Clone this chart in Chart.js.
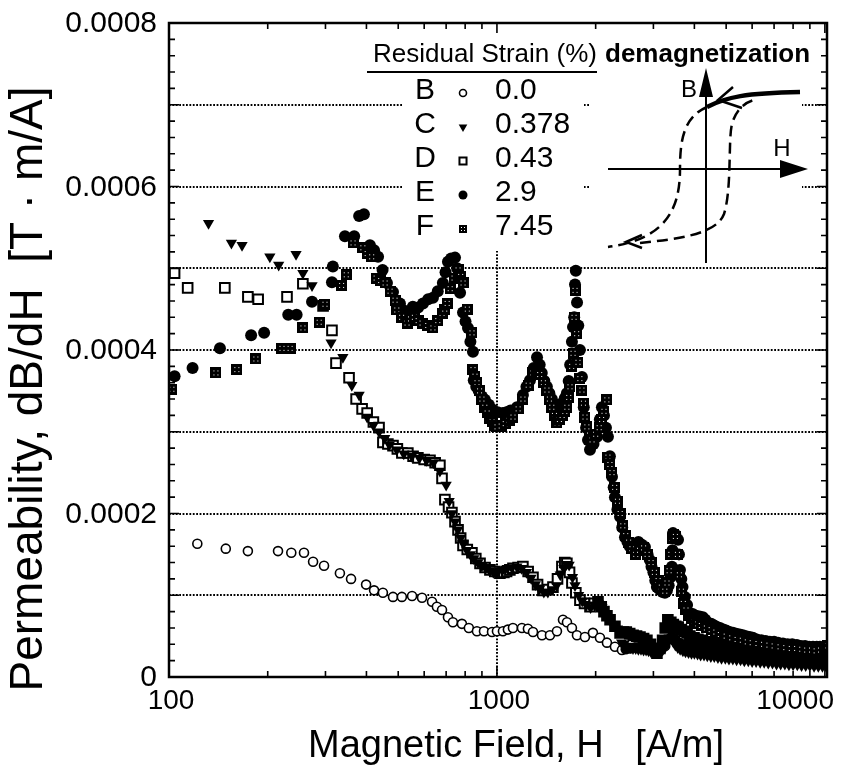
<!DOCTYPE html>
<html>
<head>
<meta charset="utf-8">
<script src="https://cdn.jsdelivr.net/npm/chart.js@4.4.1/dist/chart.umd.min.js"></script>
<style>
  html, body { margin: 0; padding: 0; background: #fff; }
  #wrap { width: 847px; height: 773px; }
</style>
</head>
<body>
<div id="wrap"><canvas id="chart" width="847" height="773"></canvas></div>
<script>
// [H (A/m), dB/dH (T·m/A)], one list per sample
const sampleB = [[122, 0.000163], [149, 0.000157], [174, 0.000154], [215, 0.000154], [236, 0.000152], [258, 0.000152],
  [275, 0.000141], [297, 0.000136], [332, 0.000127], [359, 0.000120], [399, 0.000113], [422, 0.000106], [449, 0.000103],
  [482, 0.000098], [513, 0.000098], [551, 0.000099], [591, 0.000097], [634, 0.000092], [656, 0.000086], [680, 0.000082],
  [709, 0.000073], [734, 0.000067], [782, 0.000065], [821, 0.000060], [869, 0.000056], [913, 0.000056], [966, 0.000055],
  [1000, 0.000056], [1043, 0.000056], [1080, 0.000058], [1119, 0.000060], [1192, 0.000060], [1243, 0.000059],
  [1288, 0.000055], [1372, 0.000051], [1451, 0.000051], [1524, 0.000056], [1590, 0.000070], [1635, 0.000067],
  [1693, 0.000060], [1754, 0.000051], [1855, 0.000049], [1962, 0.000054], [2061, 0.000048], [2165, 0.000042],
  [2290, 0.000037], [2405, 0.000033], [2470, 0.000034], [2540, 0.000035], [2620, 0.000036], [2700, 0.000036],
  [2780, 0.000035], [2860, 0.000035], [2940, 0.000034], [3020, 0.000033], [3100, 0.000033], [3180, 0.000034],
  [3260, 0.000038], [3340, 0.000046], [3420, 0.000050], [3500, 0.000046], [3590, 0.000042], [3690, 0.000040],
  [3800, 0.000038], [3920, 0.000037], [4050, 0.000036], [4180, 0.000035], [4320, 0.000034], [4470, 0.000033],
  [4620, 0.000032], [4780, 0.000031], [4950, 0.000030], [5130, 0.000029], [5320, 0.000028], [5520, 0.000027],
  [5730, 0.000026], [5950, 0.000025], [6180, 0.000025], [6420, 0.000024], [6670, 0.000023], [6930, 0.000023],
  [7200, 0.000022], [7480, 0.000021], [7770, 0.000021], [8070, 0.000020], [8380, 0.000020], [8700, 0.000019],
  [9030, 0.000019], [9370, 0.000018], [9720, 0.000018], [10080, 0.000018]];

const sampleC = [[132, 0.000555], [155, 0.000531], [167, 0.000528], [203, 0.000514], [216, 0.000504], [244, 0.000517],
  [256, 0.000494], [273, 0.000479], [312, 0.000409], [339, 0.000391], [361, 0.000357], [380, 0.000345], [402, 0.000318],
  [420, 0.000308], [437, 0.000300], [455, 0.000292], [470, 0.000284], [495, 0.000278], [520, 0.000273], [550, 0.000270],
  [580, 0.000268], [610, 0.000265], [640, 0.000262], [670, 0.000252], [700, 0.000235], [715, 0.000215], [729, 0.000200],
  [745, 0.000190], [760, 0.000180], [775, 0.000170], [790, 0.000163], [810, 0.000155], [830, 0.000150], [850, 0.000145],
  [875, 0.000140], [900, 0.000136], [925, 0.000133], [950, 0.000130], [975, 0.000128], [1000, 0.000127], [1040, 0.000131],
  [1075, 0.000133], [1110, 0.000134], [1150, 0.000135], [1190, 0.000133], [1230, 0.000128], [1270, 0.000121],
  [1310, 0.000113], [1350, 0.000108], [1390, 0.000104], [1430, 0.000104], [1475, 0.000107], [1520, 0.000112],
  [1560, 0.000125], [1600, 0.000133], [1630, 0.000138], [1660, 0.000137], [1700, 0.000122], [1730, 0.000112],
  [1775, 0.000100], [1820, 0.000093], [1875, 0.000088], [1930, 0.000085], [1985, 0.000088], [2040, 0.000090],
  [2090, 0.000085], [2150, 0.000078], [2210, 0.000070], [2270, 0.000064], [2330, 0.000059], [2400, 0.000042],
  [2440, 0.000040], [2480, 0.000038], [2520, 0.000037], [2560, 0.000036], [2600, 0.000035], [2650, 0.000035],
  [2700, 0.000034], [2750, 0.000034], [2800, 0.000033], [2850, 0.000033], [2900, 0.000032], [2950, 0.000031],
  [3000, 0.000031], [3050, 0.000030], [3100, 0.000030], [3150, 0.000031], [3200, 0.000033], [3250, 0.000037],
  [3300, 0.000043], [3350, 0.000048], [3400, 0.000047], [3450, 0.000043], [3500, 0.000039], [3560, 0.000036],
  [3620, 0.000034], [3690, 0.000032], [3760, 0.000031], [3840, 0.000030], [3920, 0.000029], [4000, 0.000029],
  [4090, 0.000028], [4180, 0.000027], [4280, 0.000027], [4380, 0.000026], [4490, 0.000025], [4600, 0.000025],
  [4720, 0.000024], [4840, 0.000023], [4970, 0.000023], [5100, 0.000022], [5240, 0.000022], [5380, 0.000021],
  [5530, 0.000021], [5680, 0.000020], [5840, 0.000020], [6000, 0.000019], [6170, 0.000019], [6350, 0.000018],
  [6530, 0.000018], [6720, 0.000017], [6920, 0.000017], [7120, 0.000016], [7330, 0.000016], [7550, 0.000016],
  [7770, 0.000015], [8000, 0.000015], [8240, 0.000015], [8490, 0.000014], [8740, 0.000014], [9000, 0.000014],
  [9270, 0.000013], [9550, 0.000013], [9830, 0.000013], [10100, 0.000013]];

const sampleD = [[104, 0.000494], [114, 0.000476], [148, 0.000476], [174, 0.000465], [187, 0.000462], [229, 0.000465],
  [256, 0.000481], [295, 0.000454], [314, 0.000424], [323, 0.000384], [354, 0.000366], [372, 0.000340], [388, 0.000328],
  [402, 0.000323], [420, 0.000312], [437, 0.000305], [449, 0.000287], [465, 0.000285], [482, 0.000283], [497, 0.000279],
  [513, 0.000274], [535, 0.000274], [555, 0.000270], [574, 0.000268], [600, 0.000266], [625, 0.000265], [648, 0.000262],
  [670, 0.000259], [680, 0.000243], [694, 0.000217], [712, 0.000208], [729, 0.000201], [745, 0.000190], [761, 0.000180],
  [775, 0.000170], [788, 0.000161], [812, 0.000156], [839, 0.000152], [862, 0.000145], [888, 0.000139], [920, 0.000134],
  [952, 0.000131], [985, 0.000129], [1021, 0.000127], [1050, 0.000128], [1070, 0.000129], [1095, 0.000131],
  [1119, 0.000133], [1160, 0.000134], [1200, 0.000135], [1245, 0.000129], [1288, 0.000122], [1330, 0.000113],
  [1381, 0.000106], [1430, 0.000107], [1482, 0.000110], [1530, 0.000120], [1578, 0.000135], [1610, 0.000140],
  [1634, 0.000139], [1665, 0.000128], [1693, 0.000115], [1740, 0.000103], [1791, 0.000094], [1850, 0.000090],
  [1922, 0.000086], [1980, 0.000090], [2033, 0.000092], [2080, 0.000086], [2120, 0.000080], [2165, 0.000075],
  [2213, 0.000070], [2290, 0.000062], [2374, 0.000054], [2430, 0.000055], [2480, 0.000055], [2540, 0.000053],
  [2601, 0.000051], [2665, 0.000050], [2730, 0.000049], [2800, 0.000047], [2866, 0.000045], [2940, 0.000040],
  [3000, 0.000034], [3075, 0.000029], [3140, 0.000035], [3200, 0.000045], [3260, 0.000060], [3320, 0.000070],
  [3390, 0.000067], [3450, 0.000064], [3510, 0.000062], [3570, 0.000061], [3650, 0.000058], [3720, 0.000056],
  [3800, 0.000054], [3875, 0.000050], [3990, 0.000048], [4100, 0.000046], [4230, 0.000045], [4365, 0.000043],
  [4500, 0.000042], [4650, 0.000040], [4780, 0.000039], [4900, 0.000038], [5050, 0.000037], [5200, 0.000036],
  [5350, 0.000035], [5500, 0.000034], [5650, 0.000033], [5800, 0.000032], [5950, 0.000031], [6100, 0.000031],
  [6270, 0.000030], [6450, 0.000029], [6620, 0.000029], [6800, 0.000028], [7000, 0.000028], [7200, 0.000027],
  [7400, 0.000027], [7600, 0.000026], [7800, 0.000026], [8000, 0.000025], [8250, 0.000025], [8500, 0.000024],
  [8750, 0.000024], [9000, 0.000023], [9250, 0.000023], [9500, 0.000023], [9750, 0.000022], [10000, 0.000022]];

const sampleE = [[104, 0.000368], [118, 0.000378], [143, 0.000402], [178, 0.000418], [195, 0.000421], [231, 0.000443],
  [245, 0.000443], [273, 0.000459], [314, 0.000483], [316, 0.000502], [344, 0.000539], [367, 0.000539], [380, 0.000564],
  [393, 0.000566], [410, 0.000528], [422, 0.000522], [434, 0.000514], [448, 0.000498], [462, 0.000482], [482, 0.000471],
  [506, 0.000457], [517, 0.000449], [535, 0.000447], [554, 0.000453], [575, 0.000452], [595, 0.000457], [617, 0.000462],
  [638, 0.000464], [660, 0.000472], [684, 0.000482], [697, 0.000495], [709, 0.000508], [725, 0.000512], [745, 0.000513],
  [756, 0.000500], [772, 0.000470], [788, 0.000446], [802, 0.000435], [816, 0.000427], [830, 0.000410], [845, 0.000398],
  [850, 0.000363], [865, 0.000355], [880, 0.000350], [900, 0.000343], [919, 0.000339], [945, 0.000333], [972, 0.000327],
  [1005, 0.000324], [1043, 0.000323], [1070, 0.000324], [1100, 0.000326], [1151, 0.000330], [1200, 0.000345],
  [1230, 0.000355], [1261, 0.000363], [1295, 0.000378], [1325, 0.000391], [1350, 0.000382], [1370, 0.000372],
  [1395, 0.000362], [1420, 0.000355], [1445, 0.000347], [1470, 0.000340], [1497, 0.000334], [1524, 0.000330],
  [1550, 0.000331], [1580, 0.000335], [1610, 0.000341], [1634, 0.000347], [1655, 0.000362], [1672, 0.000382],
  [1693, 0.000410], [1706, 0.000428], [1720, 0.000440], [1730, 0.000480], [1740, 0.000497], [1755, 0.000458],
  [1770, 0.000430], [1790, 0.000400], [1816, 0.000367], [1840, 0.000330], [1870, 0.000305], [1895, 0.000290],
  [1922, 0.000278], [1970, 0.000285], [2020, 0.000294], [2060, 0.000315], [2090, 0.000330], [2120, 0.000320],
  [2150, 0.000305], [2180, 0.000294], [2210, 0.000270], [2243, 0.000245], [2270, 0.000232], [2290, 0.000220],
  [2330, 0.000205], [2373, 0.000196], [2410, 0.000183], [2457, 0.000171], [2500, 0.000165], [2540, 0.000160],
  [2580, 0.000158], [2620, 0.000160], [2660, 0.000163], [2700, 0.000165], [2760, 0.000162], [2827, 0.000159],
  [2880, 0.000150], [2925, 0.000143], [2960, 0.000135], [3000, 0.000128], [3040, 0.000118], [3074, 0.000110],
  [3120, 0.000108], [3160, 0.000106], [3200, 0.000104], [3252, 0.000103], [3300, 0.000106], [3340, 0.000112],
  [3380, 0.000122], [3417, 0.000135], [3430, 0.000155], [3442, 0.000176], [3500, 0.000174], [3566, 0.000168],
  [3590, 0.000150], [3614, 0.000131], [3650, 0.000120], [3680, 0.000110], [3742, 0.000098], [3800, 0.000088],
  [3875, 0.000078], [3950, 0.000077], [4050, 0.000075], [4150, 0.000074], [4245, 0.000073], [4320, 0.000070],
  [4397, 0.000066], [4500, 0.000065], [4600, 0.000063], [4700, 0.000061], [4786, 0.000060], [4900, 0.000058],
  [5000, 0.000057], [5120, 0.000055], [5244, 0.000054], [5370, 0.000053], [5500, 0.000052], [5620, 0.000051],
  [5750, 0.000050], [5900, 0.000049], [6030, 0.000048], [6200, 0.000046], [6400, 0.000045], [6600, 0.000044],
  [6796, 0.000043], [7000, 0.000043], [7200, 0.000042], [7450, 0.000041], [7700, 0.000040], [7950, 0.000040],
  [8215, 0.000039], [8450, 0.000038], [8700, 0.000038], [8950, 0.000037], [9200, 0.000037], [9450, 0.000037],
  [9660, 0.000037], [9900, 0.000036], [10100, 0.000036]];

const sampleF = [[102, 0.000352], [139, 0.000372], [161, 0.000376], [184, 0.000389], [221, 0.000402], [234, 0.000402],
  [256, 0.000427], [287, 0.000434], [299, 0.000456], [336, 0.000479], [347, 0.000492], [364, 0.000531], [390, 0.000525],
  [402, 0.000518], [415, 0.000514], [428, 0.000488], [442, 0.000485], [456, 0.000482], [472, 0.000472], [489, 0.000461],
  [495, 0.000449], [512, 0.000440], [532, 0.000433], [545, 0.000438], [560, 0.000440], [575, 0.000436], [591, 0.000433],
  [615, 0.000430], [638, 0.000427], [660, 0.000436], [680, 0.000445], [693, 0.000450], [705, 0.000457], [720, 0.000475],
  [740, 0.000488], [761, 0.000498], [775, 0.000490], [788, 0.000482], [812, 0.000450], [839, 0.000421], [845, 0.000376],
  [857, 0.000368], [869, 0.000360], [885, 0.000350], [900, 0.000340], [918, 0.000330], [933, 0.000323], [950, 0.000316],
  [966, 0.000312], [983, 0.000308], [1000, 0.000306], [1030, 0.000307], [1060, 0.000310], [1090, 0.000314],
  [1119, 0.000318], [1160, 0.000328], [1200, 0.000340], [1245, 0.000357], [1288, 0.000372], [1320, 0.000373],
  [1350, 0.000370], [1385, 0.000360], [1420, 0.000351], [1445, 0.000340], [1470, 0.000330], [1497, 0.000320],
  [1524, 0.000311], [1550, 0.000315], [1580, 0.000320], [1610, 0.000325], [1634, 0.000330], [1655, 0.000342],
  [1670, 0.000355], [1690, 0.000380], [1706, 0.000396], [1718, 0.000440], [1730, 0.000473], [1750, 0.000420],
  [1766, 0.000385], [1790, 0.000365], [1816, 0.000351], [1835, 0.000335], [1855, 0.000318], [1880, 0.000306],
  [1915, 0.000296], [1950, 0.000290], [2000, 0.000297], [2050, 0.000305], [2085, 0.000315], [2120, 0.000325],
  [2163, 0.000339], [2180, 0.000269], [2210, 0.000260], [2243, 0.000250], [2285, 0.000232], [2330, 0.000215],
  [2375, 0.000200], [2420, 0.000185], [2470, 0.000173], [2520, 0.000165], [2580, 0.000157], [2650, 0.000150],
  [2720, 0.000155], [2800, 0.000158], [2870, 0.000150], [2950, 0.000140], [3020, 0.000128], [3100, 0.000118],
  [3170, 0.000110], [3250, 0.000105], [3300, 0.000115], [3350, 0.000130], [3390, 0.000150], [3420, 0.000170],
  [3460, 0.000174], [3500, 0.000172], [3550, 0.000150], [3600, 0.000125], [3650, 0.000105], [3700, 0.000090],
  [3770, 0.000082], [3850, 0.000075], [3920, 0.000071], [4000, 0.000068], [4100, 0.000065], [4200, 0.000063],
  [4350, 0.000060], [4500, 0.000058], [4650, 0.000055], [4800, 0.000052], [5000, 0.000050], [5200, 0.000048],
  [5400, 0.000046], [5600, 0.000045], [5800, 0.000043], [6000, 0.000042], [6250, 0.000041], [6500, 0.000040],
  [6750, 0.000039], [7000, 0.000038], [7300, 0.000037], [7600, 0.000036], [7900, 0.000035], [8200, 0.000035],
  [8500, 0.000034], [8800, 0.000033], [9100, 0.000033], [9400, 0.000032], [9700, 0.000033], [10000, 0.000035],
  [10200, 0.000038]];

// Key entries (sample letter, residual strain %)
const sampleLetters = ['B', 'C', 'D', 'E', 'F'];
const strainLabels = ['0.0', '0.378', '0.43', '2.9', '7.45'];

// Axis ticks
const xMin = 100, xMax = 10150;
const xTickValues = [100, 1000, 10000];
const xTickLabels = ['100', '1000', '10000'];
const yTickValues = [0, 0.0002, 0.0004, 0.0006, 0.0008];
const yTickLabels = ['0', '0.0002', '0.0004', '0.0006', '0.0008'];
const yGridValues = [0.0001, 0.0002, 0.0003, 0.0004, 0.0005, 0.0006, 0.0007];
const xGridValues = [1000];

const FONT = '"Liberation Sans", Arial, Helvetica, sans-serif';

function points(list) {
    return list.map(p => ({ x: p[0], y: p[1] }));
}

// open markers fill in where the traces pile up into a solid band
function openUntil(hLimit) {
    return c => (c.raw && c.raw.x > hLimit ? '#000' : '#fff');
}

// black square with four white pin-holes, used for sample F
function dottedSquare(size) {
    const c = document.createElement('canvas');
    c.width = size;
    c.height = size;
    const g = c.getContext('2d');
    g.fillStyle = '#000';
    g.fillRect(0, 0, size, size);
    g.fillStyle = '#fff';
    const a = Math.round(size * 0.3), b = Math.round(size * 0.6);
    [[a, a], [b, a], [a, b], [b, b]].forEach(p => g.fillRect(p[0], p[1], 1, 1));
    return c;
}

// inward tick positions
const xMinorTicks = [];
[100, 1000].forEach(d => { for (let k = 1; k <= 9; k++) xMinorTicks.push(d * k); });
xMinorTicks.push(10000);
const yMinorTicks = [];
for (let k = 0; k <= 40; k++) yMinorTicks.push(k * 0.00002);

const decor = {
    id: 'decor',
    beforeDatasetsDraw(chart) {
        const { ctx, chartArea: a, scales: { x, y } } = chart;
        ctx.save();
        ctx.strokeStyle = '#000';
        ctx.lineWidth = 2;
        ctx.setLineDash([1.8, 1.6]);
        yGridValues.forEach(v => {
            const py = Math.round(y.getPixelForValue(v));
            ctx.beginPath();
            ctx.moveTo(a.left, py);
            ctx.lineTo(a.right, py);
            ctx.stroke();
        });
        xGridValues.forEach(v => {
            const px = Math.round(x.getPixelForValue(v));
            ctx.beginPath();
            ctx.moveTo(px, a.top);
            ctx.lineTo(px, a.bottom);
            ctx.stroke();
        });
        ctx.setLineDash([]);
        // blank panels behind the key and the sketch
        ctx.fillStyle = '#fff';
        ctx.fillRect(a.left + 234, a.top + 1, 181, 227);
        ctx.fillRect(a.left + 421, a.top + 1, 212, 233);
        ctx.restore();
    },
    afterDatasetsDraw(chart) {
        const { ctx, chartArea: a, scales: { x, y } } = chart;
        ctx.save();

        // frame
        ctx.strokeStyle = '#000';
        ctx.lineWidth = 2.5;
        ctx.strokeRect(a.left, a.top, a.right - a.left, a.bottom - a.top);

        // inward ticks
        ctx.lineWidth = 1.6;
        ctx.beginPath();
        xMinorTicks.forEach(v => {
            const px = x.getPixelForValue(v);
            const len = xTickValues.includes(v) ? 10 : 6;
            ctx.moveTo(px, a.bottom);
            ctx.lineTo(px, a.bottom - len);
            ctx.moveTo(px, a.top);
            ctx.lineTo(px, a.top + len);
        });
        yMinorTicks.forEach(v => {
            const py = y.getPixelForValue(v);
            const major = Math.abs(v * 10000 - Math.round(v * 10000)) < 1e-6;
            const len = major ? 10 : 6;
            ctx.moveTo(a.left, py);
            ctx.lineTo(a.left + len, py);
            ctx.moveTo(a.right, py);
            ctx.lineTo(a.right - len, py);
        });
        ctx.stroke();

        // tick labels
        ctx.fillStyle = '#000';
        ctx.font = '30px ' + FONT;
        ctx.textAlign = 'right';
        ctx.textBaseline = 'middle';
        yTickValues.forEach((v, i) => {
            ctx.fillText(yTickLabels[i], a.left - 12, y.getPixelForValue(v) + 1);
        });
        ctx.font = '28px ' + FONT;
        ctx.textAlign = 'center';
        xTickValues.forEach((v, i) => {
            const w = ctx.measureText(xTickLabels[i]).width;
            const px = Math.min(x.getPixelForValue(v) + 2, chart.width - 13 - w / 2);
            ctx.fillText(xTickLabels[i], px, a.bottom + 24);
        });

        // axis titles
        ctx.font = '38px ' + FONT;
        ctx.fillText('Magnetic Field, H   [A/m]', 516, a.bottom + 70);
        ctx.save();
        ctx.translate(29, 389);
        ctx.rotate(-Math.PI / 2);
        ctx.font = '46px ' + FONT;
        ctx.fillText('Permeability, dB/dH  [T \u00b7 m/A]', 0, 0);
        ctx.restore();

        // key
        ctx.font = '26px ' + FONT;
        ctx.textAlign = 'left';
        ctx.textBaseline = 'alphabetic';
        ctx.fillText('Residual Strain (%)', 373, 62);
        ctx.font = 'bold 26px ' + FONT;
        ctx.fillText('demagnetization', 605, 62);
        ctx.lineWidth = 2;
        ctx.beginPath();
        ctx.moveTo(367, 72);
        ctx.lineTo(597, 72);
        ctx.stroke();

        ctx.font = '30px ' + FONT;
        ctx.textBaseline = 'middle';
        chart.data.datasets.forEach(ds => {
            const i = sampleLetters.indexOf(ds.label);
            const ry = 90 + i * 34;
            ctx.textAlign = 'center';
            ctx.fillStyle = '#000';
            ctx.fillText(ds.label, 425, ry + 1);
            ctx.textAlign = 'left';
            ctx.fillText(strainLabels[i], 495, ry + 1);
            ctx.fillStyle = ds.keyFill;
            ctx.strokeStyle = '#000';
            ctx.lineWidth = ds.pointBorderWidth;
            Chart.helpers.drawPoint(ctx, {
                pointStyle: ds.keyStyle,
                rotation: ds.pointRotation || 0,
                radius: ds.keyRadius,
                borderWidth: ds.pointBorderWidth
            }, 463, ry + 3);
        });

        // sketch of the demagnetization path on the B-H loop
        const ox = 706, oy = 169;
        ctx.fillStyle = '#000';
        ctx.strokeStyle = '#000';
        ctx.lineWidth = 2;
        ctx.beginPath();
        ctx.moveTo(ox, oy + 94);
        ctx.lineTo(ox, oy - 76);
        ctx.moveTo(ox - 98, oy);
        ctx.lineTo(ox + 78, oy);
        ctx.stroke();
        ctx.beginPath();
        ctx.moveTo(ox, oy - 101);
        ctx.lineTo(ox - 7, oy - 72);
        ctx.lineTo(ox + 7, oy - 72);
        ctx.closePath();
        ctx.moveTo(ox + 102, oy);
        ctx.lineTo(ox + 74, oy - 9);
        ctx.lineTo(ox + 74, oy + 9);
        ctx.closePath();
        ctx.fill();
        ctx.font = '24px ' + FONT;
        ctx.textAlign = 'center';
        ctx.fillText('B', ox - 17, oy - 79);
        ctx.fillText('H', ox + 76, oy - 20);

        ctx.lineWidth = 2.5;
        ctx.setLineDash([11, 6]);
        ctx.beginPath();
        ctx.moveTo(ox + 1, oy - 62);
        ctx.bezierCurveTo(ox - 22, oy - 52, ox - 26, oy - 30, ox - 26, oy);
        ctx.bezierCurveTo(ox - 26, oy + 40, ox - 40, oy + 70, ox - 98, oy + 78);
        ctx.moveTo(ox - 66, oy + 74);
        ctx.bezierCurveTo(ox - 30, oy + 70, ox + 10, oy + 66, ox + 18, oy + 45);
        ctx.bezierCurveTo(ox + 26, oy + 20, ox + 22, oy - 30, ox + 26, oy - 45);
        ctx.bezierCurveTo(ox + 30, oy - 60, ox + 40, oy - 67, ox + 48, oy - 69);
        ctx.stroke();
        ctx.setLineDash([]);
        ctx.beginPath();
        ctx.moveTo(ox - 64, oy + 66);
        ctx.lineTo(ox - 80, oy + 73);
        ctx.lineTo(ox - 64, oy + 79);
        ctx.stroke();

        ctx.lineWidth = 4.5;
        ctx.beginPath();
        ctx.moveTo(ox + 1, oy - 62);
        ctx.bezierCurveTo(ox + 20, oy - 72, ox + 40, oy - 76, ox + 94, oy - 77);
        ctx.stroke();
        ctx.lineWidth = 2.5;
        ctx.beginPath();
        ctx.moveTo(ox + 27, oy - 82);
        ctx.lineTo(ox + 12, oy - 69);
        ctx.lineTo(ox + 36, oy - 61);
        ctx.stroke();

        ctx.restore();
    }
};

const dotSquare = dottedSquare(11);
const dotSquareKey = dottedSquare(8);

new Chart(document.getElementById('chart'), {
    type: 'scatter',
    data: {
        datasets: [{
            label: 'F',
            data: points(sampleF),
            pointStyle: dotSquare,
            keyStyle: dotSquareKey,
            keyRadius: 4,
            keyFill: '#000',
            pointBackgroundColor: '#000',
            pointBorderWidth: 0
        }, {
            label: 'E',
            data: points(sampleE),
            pointStyle: 'circle',
            keyStyle: 'circle',
            keyRadius: 4.5,
            keyFill: '#000',
            pointRadius: 6,
            pointBackgroundColor: '#000',
            pointBorderColor: '#000',
            pointBorderWidth: 0
        }, {
            label: 'C',
            data: points(sampleC),
            pointStyle: 'triangle',
            keyStyle: 'triangle',
            keyRadius: 5,
            keyFill: '#000',
            pointRotation: 180,
            pointRadius: 6.5,
            pointBackgroundColor: '#000',
            pointBorderColor: '#000',
            pointBorderWidth: 0
        }, {
            label: 'D',
            data: points(sampleD),
            pointStyle: 'rect',
            keyStyle: 'rect',
            keyRadius: 5,
            keyFill: '#fff',
            pointRadius: 6.8,
            pointBackgroundColor: openUntil(2000),
            pointBorderColor: '#000',
            pointBorderWidth: 2
        }, {
            label: 'B',
            data: points(sampleB),
            pointStyle: 'circle',
            keyStyle: 'circle',
            keyRadius: 3.5,
            keyFill: '#fff',
            pointRadius: 4.5,
            pointBackgroundColor: openUntil(2450),
            pointBorderColor: '#000',
            pointBorderWidth: 1.6
        }]
    },
    options: {
        responsive: false,
        animation: false,
        events: [],
        layout: { padding: { left: 169, top: 23, right: 20, bottom: 96 } },
        plugins: {
            legend: { display: false },
            tooltip: { enabled: false }
        },
        scales: {
            x: {
                type: 'logarithmic',
                min: xMin,
                max: xMax,
                display: false
            },
            y: {
                min: 0,
                max: 0.0008,
                display: false
            }
        }
    },
    plugins: [decor]
});
</script>
</body>
</html>
